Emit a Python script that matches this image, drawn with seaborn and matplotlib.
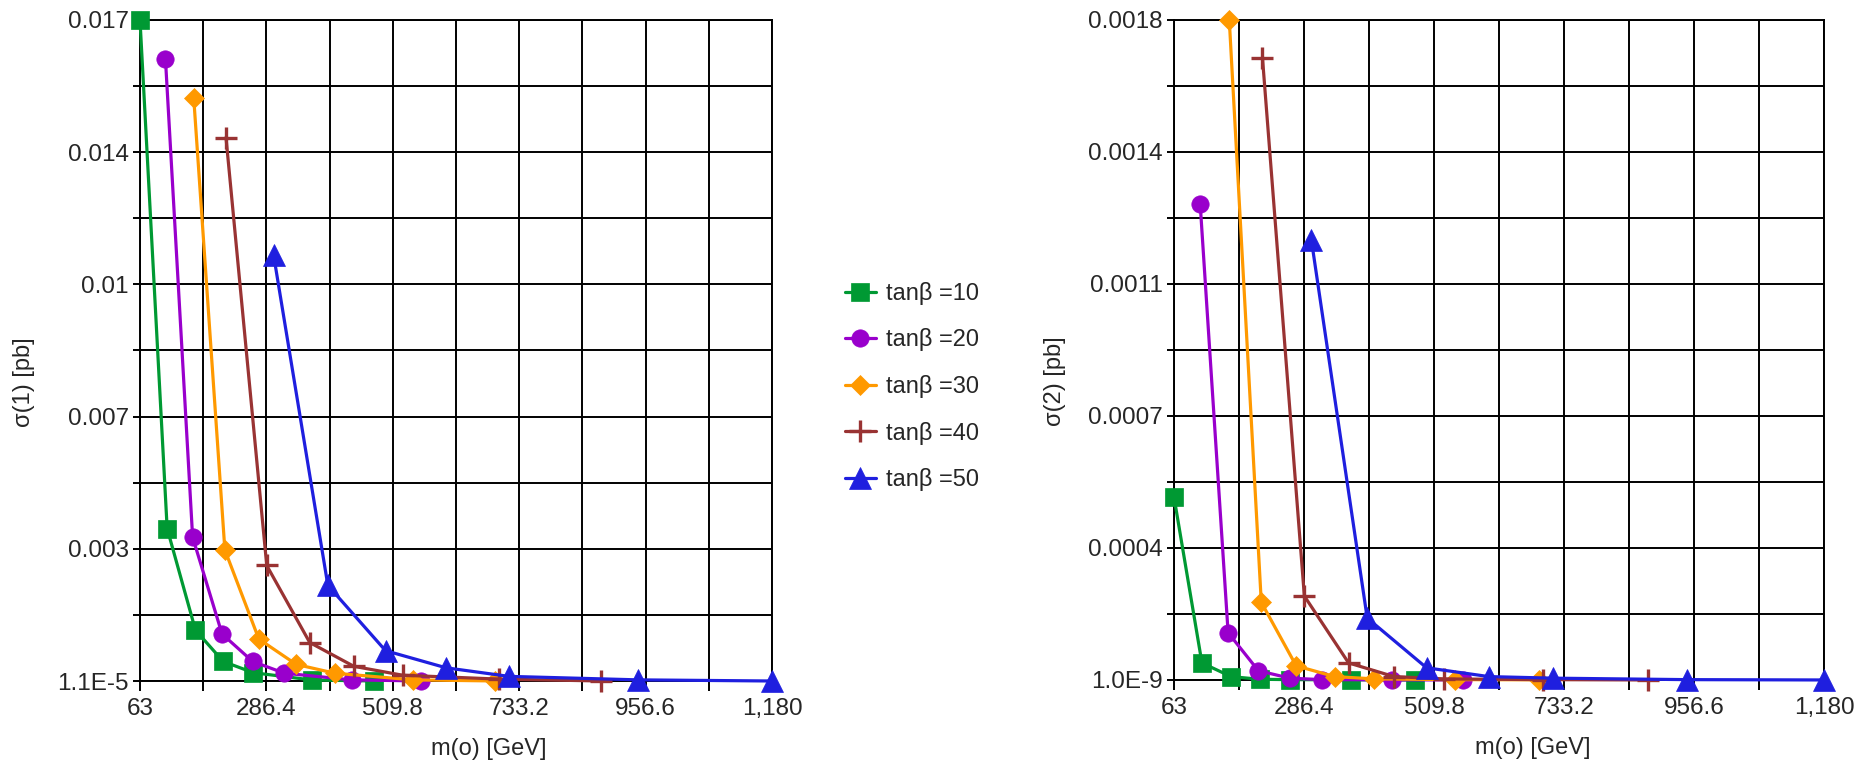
import numpy as np
import pandas as pd
import matplotlib
matplotlib.use("Agg")
import matplotlib.pyplot as plt
import seaborn as sns

# ---------------- data ----------------
series_labels = ["tanβ =10", "tanβ =20", "tanβ =30", "tanβ =40", "tanβ =50"]

m0_10 = [63, 111, 161, 210, 263, 367, 477]
m0_20 = [108, 156, 208, 262, 318, 437, 559]
m0_30 = [158, 213, 273, 339, 407, 546, 690]
m0_40 = [215, 287, 363, 441, 527, 697, 877]
m0_50 = [299, 395, 497, 604, 715, 944, 1180]

sig1_10 = [0.0170, 0.00393, 0.00132, 0.000514, 0.000225, 0.000036, 0.000012]
sig1_20 = [0.01599, 0.00371, 0.00122, 0.000514, 0.000212, 0.000040, 0.000012]
sig1_30 = [0.01499, 0.00338, 0.00109, 0.000438, 0.000212, 0.000040, 0.000012]
sig1_40 = [0.01398, 0.00298, 0.00100, 0.000388, 0.000160, 0.000060, 0.000012]
sig1_50 = [0.01097, 0.00247, 0.00079, 0.000350, 0.000130, 0.000040, 0.000011]

sig2_10 = [0.000499, 0.0000466, 0.0000093, 0.000002, 0.000001, 0.0000005, 0.0000001]
sig2_20 = [0.001298, 0.000129, 0.0000253, 0.000005, 0.000001, 0.0000005, 0.0000001]
sig2_30 = [0.0018, 0.000212, 0.0000386, 0.0000093, 0.000003, 0.000001, 0.0000005]
sig2_40 = [0.0016975, 0.000229, 0.0000466, 0.0000093, 0.000003, 0.000001, 0.0000001]
sig2_50 = [0.001201, 0.000169, 0.0000333, 0.0000093, 0.000005, 0.000001, 0.0000001]

x_ticklabels = ["63", "", "286.4", "", "509.8", "", "733.2", "", "956.6", "", "1,180"]
y1_ticklabels = ["1.1E-5", "", "0.003", "", "0.007", "", "0.01", "", "0.014", "", "0.017"]
y2_ticklabels = ["1.0E-9", "", "0.0004", "", "0.0007", "", "0.0011", "", "0.0014", "", "0.0018"]

x_range = (63, 1180)
y1_range = (1.1e-5, 0.017)
y2_range = (1.0e-9, 0.0018)

# ---------------- style ----------------
colors = ["#009933", "#9900cc", "#ff9900", "#993333", "#1f1fdf"]
markers = ["s", "o", "D", "+", "^"]
msizes = [13, 12.5, 10.5, 16, 16]

sns.set_theme(style="white")
plt.rcParams["font.family"] = ["Liberation Sans", "DejaVu Sans"]

fig = plt.figure(figsize=(18.74, 7.66), dpi=100)
ax1 = fig.add_axes([140 / 1874, 1 - 681 / 766, 632 / 1874, 661 / 766])
ax2 = fig.add_axes([1174 / 1874, 1 - 680 / 766, 650 / 1874, 660 / 766])

m0s = [m0_10, m0_20, m0_30, m0_40, m0_50]
sig1 = [sig1_10, sig1_20, sig1_30, sig1_40, sig1_50]
sig2 = [sig2_10, sig2_20, sig2_30, sig2_40, sig2_50]


def draw(ax, sigs, yr, ylabels, ylabel):
    for lab, xs, ys, c, mk, ms in zip(series_labels, m0s, sigs, colors, markers, msizes):
        df = pd.DataFrame({"m0": xs, "sigma": ys})
        sns.lineplot(data=df, x="m0", y="sigma", ax=ax, color=c, marker=mk,
                     markersize=ms, markeredgecolor=c, markeredgewidth=2.4 if mk == "+" else 0.5,
                     linewidth=2.3, label=lab, clip_on=False, estimator=None, zorder=3)
    ax.set_xlim(*x_range)
    ax.set_ylim(*yr)
    ax.set_xticks(np.linspace(x_range[0], x_range[1], len(x_ticklabels)))
    ax.set_xticklabels(x_ticklabels)
    ax.set_yticks(np.linspace(yr[0], yr[1], len(ylabels)))
    ax.set_yticklabels(ylabels)
    ax.grid(True, color="black", linewidth=1.4)
    ax.set_axisbelow(True)
    for s in ax.spines.values():
        s.set_color("black")
        s.set_linewidth(1.4)
    ax.tick_params(axis="x", direction="out", length=7, width=1.4, color="black",
                   labelsize=17.5, pad=5, bottom=True)
    ax.tick_params(axis="y", direction="out", length=5, width=1.4, color="black",
                   labelsize=17.5, pad=3, left=True)
    ax.set_xlabel("m(o) [GeV]", fontsize=17)
    ax.set_ylabel(ylabel, fontsize=17)
    ax.xaxis.set_label_coords(0.552, -0.086)
    ax.yaxis.set_label_coords(-0.166, 0.452)
    if ax.get_legend() is not None:
        ax.get_legend().remove()


draw(ax1, sig1, y1_range, y1_ticklabels, "σ(1) [pb]")
draw(ax2, sig2, y2_range, y2_ticklabels, "σ(2) [pb]")

handles, labels = ax1.get_legend_handles_labels()
fig.legend(handles, labels, loc="center left", bbox_to_anchor=(845 / 1874, 1 - 386.5 / 766),
           frameon=False, fontsize=17, borderpad=0, borderaxespad=0,
           handlelength=1.3, handletextpad=0.45, labelspacing=1.0)

fig.savefig("out.png", dpi=100)
